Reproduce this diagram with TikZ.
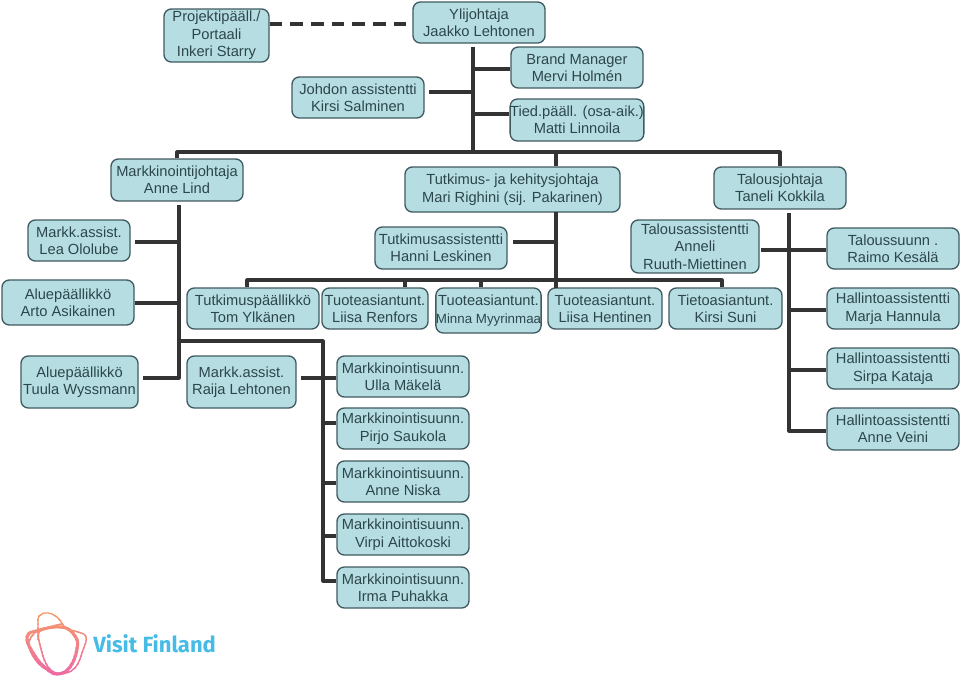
\documentclass[tikz,border=0pt]{standalone}
\usepackage{fontspec}
\setmainfont{Liberation Sans}
\newfontfamily\logofont{Fira Sans}
\definecolor{boxfill}{HTML}{B6DEE2}
\definecolor{boxline}{HTML}{3F5A60}
\definecolor{boxtext}{HTML}{2C464C}
\definecolor{connline}{HTML}{333333}
\definecolor{logoblue}{HTML}{45BBE6}
\definecolor{logotop}{HTML}{F59A68}
\definecolor{logobot}{HTML}{EE6CA2}
\tikzset{
  orgbox/.style={draw=boxline,fill=boxfill,line width=1pt,rounded corners=5.5pt,inner sep=0pt,
    align=center,text=boxtext,font=\fontsize{11}{13.1}\selectfont},
  conn/.style={draw=connline,line width=2.4pt,line cap=butt,line join=round},
  logoring/.style={line width=#1,line join=round}
}
\newcommand{\orgnode}[6]{\node[orgbox,minimum width={(#4-#2)*0.75pt},minimum height={(#5-#3)*0.75pt}] (#1) at ({(#2+#4)/2},{(#3+#5)/2}) {#6};}
\begin{document}
\begin{tikzpicture}[x=0.75pt,y=-0.75pt]
\useasboundingbox (0,0) rectangle (960,679);
\orgnode{proj}{164}{9}{269}{62}{Projektipääll./\\Portaali\\Inkeri Starry}
\orgnode{ylij}{413}{2}{545}{43}{Ylijohtaja\\Jaakko Lehtonen}
\orgnode{brand}{511}{47}{643}{88}{Brand Manager\\Mervi Holmén}
\orgnode{tied}{511}{99}{643}{141}{Tied.pääll. (osa-aik.)\\Matti Linnoila}
\orgnode{johdon}{292}{77}{424}{118}{Johdon assistentti\\Kirsi Salminen}
\orgnode{markj}{111}{159}{243}{201}{Markkinointijohtaja\\Anne Lind}
\orgnode{tutkj}{405}{167}{620}{212}{Tutkimus- ja kehitysjohtaja\\Mari Righini (sij. Pakarinen)}
\orgnode{talj}{714}{167}{846}{209}{Talousjohtaja\\Taneli Kokkila}
\orgnode{lea}{28}{220}{130}{261}{Markk.assist.\\Lea Ololube}
\orgnode{tutka}{375}{227}{507}{269}{Tutkimusassistentti\\Hanni Leskinen}
\orgnode{tala}{631}{220}{759}{273}{Talousassistentti\\Anneli\\Ruuth-Miettinen}
\orgnode{tals}{827}{228}{959}{269}{Taloussuunn .\\Raimo Kesälä}
\orgnode{arto}{2}{280}{134}{325}{Aluepäällikkö\\Arto Asikainen}
\orgnode{tom}{187}{288}{319}{329}{Tutkimuspäällikkö\\Tom Ylkänen}
\orgnode{liisar}{322}{288}{428}{329}{Tuoteasiantunt.\\Liisa Renfors}
\orgnode{minna}{436}{288}{541}{333}{Tuoteasiantunt.\\{\fontsize{10}{13.1}\selectfont Minna Myyrinmaa}}
\orgnode{liisah}{548}{288}{662}{329}{Tuoteasiantunt.\\Liisa Hentinen}
\orgnode{kirsi}{669}{288}{782}{329}{Tietoasiantunt.\\Kirsi Suni}
\orgnode{marja}{827}{288}{959}{329}{Hallintoassistentti\\Marja Hannula}
\orgnode{tuula}{21}{356}{138}{408}{Aluepäällikkö\\Tuula Wyssmann}
\orgnode{raija}{187}{356}{296}{408}{Markk.assist.\\Raija Lehtonen}
\orgnode{ulla}{337}{356}{469}{397}{Markkinointisuunn.\\Ulla Mäkelä}
\orgnode{pirjo}{337}{408}{469}{449}{Markkinointisuunn.\\Pirjo Saukola}
\orgnode{niska}{337}{461}{469}{502}{Markkinointisuunn.\\Anne Niska}
\orgnode{virpi}{337}{514}{469}{555}{Markkinointisuunn.\\Virpi Aittokoski}
\orgnode{irma}{337}{567}{469}{608}{Markkinointisuunn.\\Irma Puhakka}
\orgnode{sirpa}{827}{348}{959}{389}{Hallintoassistentti\\Sirpa Kataja}
\orgnode{veini}{827}{408}{959}{450}{Hallintoassistentti\\Anne Veini}
% dashed link
\coordinate (dashend) at (407,24);
\draw[conn,line width=3pt,dash pattern=on 9.5pt off 6pt] (dashend -| proj.east) -- (dashend);
% top trunk
\coordinate (topA) at (473,47);
\coordinate (topB) at (473,152);
\coordinate (jbrand) at (473,69);
\coordinate (jjoh) at (473,92);
\coordinate (jtied) at (473,114);
\draw[conn] (topA) -- (topB);
\draw[conn] (jbrand) -- (jbrand -| brand.west);
\draw[conn] (jjoh) -- ([xshift=3pt]jjoh -| johdon.east);
\draw[conn] (jtied) -- (jtied -| tied.west);
\draw[conn] (markj.north) |- (topB) -| (talj.north);
\coordinate (midA) at (556,152);
\draw[conn] (midA) -- (midA |- tutkj.north);
% marketing trunk
\coordinate (mkA) at (179,205);
\coordinate (mkTuula) at (179,378);
\coordinate (mkLea) at (179,242);
\coordinate (mkArto) at (179,303);
\coordinate (mkB) at (179,341);
\coordinate (subT) at (323,341);
\coordinate (subB) at (323,581);
\draw[conn] (mkA) -- (mkTuula) -- ([xshift=3pt]mkTuula -| tuula.east);
\draw[conn] (mkLea) -- ([xshift=3pt]mkLea -| lea.east);
\draw[conn] (mkArto) -- (mkArto -| arto.east);
\draw[conn] (mkB) -- (subT) -- (subB) -- (subB -| irma.west);
\coordinate (sUlla) at (323,378);
\coordinate (sPirjo) at (323,423);
\coordinate (sNiska) at (323,483);
\coordinate (sVirpi) at (323,536);
\draw[conn] ([xshift=3pt]sUlla -| raija.east) -- (sUlla -| ulla.west);
\draw[conn] (sPirjo) -- (sPirjo -| pirjo.west);
\draw[conn] (sNiska) -- (sNiska -| niska.west);
\draw[conn] (sVirpi) -- (sVirpi -| virpi.west);
% research trunk
\coordinate (reA) at (556,212);
\coordinate (reB) at (556,288);
\coordinate (reAss) at (556,242);
\coordinate (reH) at (556,280);
\draw[conn] (reA) -- (reB);
\draw[conn] (reAss) -- ([xshift=4pt]reAss -| tutka.east);
\coordinate (tkA) at (247,280);
\coordinate (tkE) at (722,280);
\coordinate (tkL) at (405,280);
\coordinate (tkM) at (481,280);
\draw[conn] (tkA |- tom.north) -- (tkA) -- (tkE) -- (tkE |- kirsi.north);
\draw[conn] (tkL) -- (tkL |- liisar.north);
\draw[conn] (tkM) -- (tkM |- minna.north);
% finance trunk
\coordinate (fiA) at (789,213);
\coordinate (fiB) at (789,431);
\coordinate (fiTal) at (789,250);
\coordinate (fiMarja) at (789,310);
\coordinate (fiSirpa) at (789,370);
\draw[conn] (fiA) -- (fiB) -- (fiB -| veini.west);
\draw[conn] ([xshift=1pt]fiTal -| tala.east) -- (fiTal -| tals.west);
\draw[conn] (fiMarja) -- (fiMarja -| marja.west);
\draw[conn] (fiSirpa) -- (fiSirpa -| sirpa.west);
% logo
\foreach \i in {0,...,15}{
  \pgfmathsetmacro{\pc}{100-\i*6.6}
  \colorlet{bandcol}{logotop!\pc!logobot}
  \begin{scope}
    \clip (20,{612+\i*4-0.3}) rectangle (95,{612+\i*4+4.3});
    \draw[bandcol,logoring=2.3pt] plot[smooth cycle,tension=0.75] coordinates {(27,637) (40,630) (62,627) (75,636) (77,649) (70,667) (58,674) (47,669) (35,656)};
    \draw[bandcol,logoring=1pt] plot[smooth,tension=0.75] coordinates {(38,640) (38,625) (39,616) (48,613) (58,618) (66,628) (78,632) (86,637) (83,650) (75,668) (62,674)};
    \draw[bandcol,logoring=1.1pt] plot[smooth,tension=0.7] coordinates {(62,624) (50,627) (39,632) (41,649) (48,667) (58,674)};
    \draw[bandcol,logoring=1.1pt] plot[smooth,tension=0.7] coordinates {(38,630) (30,639) (30,650) (40,665) (55,674)};
  \end{scope}
}
\node[inner sep=0pt,anchor=base west,text=logoblue,font=\logofont\fontsize{16.5}{18}\selectfont\bfseries] (logotext) at (93,652) {Visit Finland};
\end{tikzpicture}
\end{document}
